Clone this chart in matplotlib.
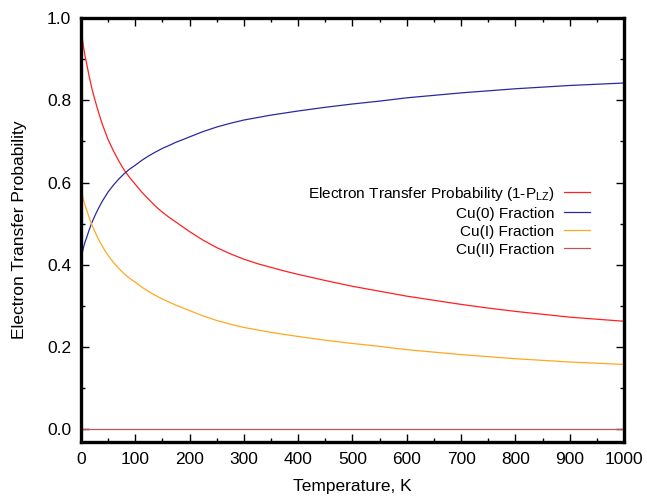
import matplotlib
matplotlib.use('Agg')
import matplotlib.pyplot as plt
from matplotlib.ticker import MultipleLocator, FormatStrFormatter

plt.rcParams['font.family'] = ['Liberation Sans', 'DejaVu Sans']
plt.rcParams['mathtext.default'] = 'regular'

# values
temperature = [0, 1, 2.5, 5, 7.5, 10, 15, 20, 25, 30, 35, 40, 50, 60, 70, 80, 90,
               100, 112, 125, 137, 150, 162, 175, 187, 200, 225, 250, 275, 300,
               325, 350, 375, 400, 450, 500, 550, 600, 650, 700, 750, 800, 850,
               900, 950, 1000]
transfer_prob = [1.000, 0.972, 0.952, 0.928, 0.909, 0.893, 0.860, 0.830, 0.805,
                 0.782, 0.760, 0.740, 0.705, 0.677, 0.652, 0.630, 0.612, 0.596,
                 0.577, 0.559, 0.543, 0.528, 0.516, 0.504, 0.493, 0.481, 0.460,
                 0.442, 0.427, 0.414, 0.403, 0.394, 0.385, 0.377, 0.362, 0.348,
                 0.336, 0.324, 0.314, 0.304, 0.295, 0.287, 0.280, 0.273, 0.268,
                 0.263]
cu0_frac = [0.400, 0.417, 0.429, 0.443, 0.455, 0.464, 0.484, 0.502, 0.517, 0.531,
            0.544, 0.556, 0.577, 0.594, 0.609, 0.622, 0.633, 0.642, 0.654, 0.665,
            0.674, 0.683, 0.690, 0.698, 0.704, 0.711, 0.724, 0.735, 0.744, 0.752,
            0.758, 0.764, 0.769, 0.774, 0.783, 0.791, 0.798, 0.806, 0.812, 0.818,
            0.823, 0.828, 0.832, 0.836, 0.839, 0.842]
cu1_frac = [0.600, 0.583, 0.571, 0.557, 0.545, 0.536, 0.516, 0.498, 0.483, 0.469,
            0.456, 0.444, 0.423, 0.406, 0.391, 0.378, 0.367, 0.358, 0.346, 0.335,
            0.326, 0.317, 0.310, 0.302, 0.296, 0.289, 0.276, 0.265, 0.256, 0.248,
            0.242, 0.236, 0.231, 0.226, 0.217, 0.209, 0.202, 0.194, 0.188, 0.182,
            0.177, 0.172, 0.168, 0.164, 0.161, 0.158]
cu2_frac = [0.0] * len(temperature)

labels = ['Electron Transfer Probability (1-P$_{LZ}$)', 'Cu(0) Fraction',
          'Cu(I) Fraction', 'Cu(II) Fraction']
colors = ['#ff2020', '#2a2aa0', '#ffa820', '#b85858']

fig = plt.figure(figsize=(6.47, 4.97), dpi=100)
ax = fig.add_axes([0.125, 0.111, 0.8395, 0.8528])

for ys, lab, col in zip([transfer_prob, cu0_frac, cu1_frac, cu2_frac], labels, colors):
    ax.plot(temperature, ys, color=col, lw=0.9, label=lab)

ax.set_xlim(0, 1000)
ax.set_ylim(-0.03, 1.0)
ax.xaxis.set_major_locator(MultipleLocator(100))
ax.xaxis.set_minor_locator(MultipleLocator(50))
ax.yaxis.set_major_locator(MultipleLocator(0.2))
ax.yaxis.set_minor_locator(MultipleLocator(0.1))
ax.yaxis.set_major_formatter(FormatStrFormatter('%.1f'))
ax.tick_params(which='both', direction='in', top=True, right=True, width=1.0,
               labelsize=12.5)
ax.tick_params(which='major', length=6, pad=7)
ax.tick_params(which='minor', length=3)
for s in ax.spines.values():
    s.set_linewidth(2.4)

ax.set_xlabel('Temperature, K', fontsize=12.5, labelpad=9)
ax.set_ylabel('Electron Transfer Probability', fontsize=12.5, labelpad=14)

leg = ax.legend(loc='upper right', bbox_to_anchor=(0.937, 0.607), frameon=False,
                markerfirst=False, fontsize=11.1, handlelength=1.65,
                handletextpad=0.65, labelspacing=0.26, borderpad=0,
                borderaxespad=0)
for col in leg._legend_handle_box.get_children():
    col.align = 'right'

fig.savefig('out.png', dpi=100)
